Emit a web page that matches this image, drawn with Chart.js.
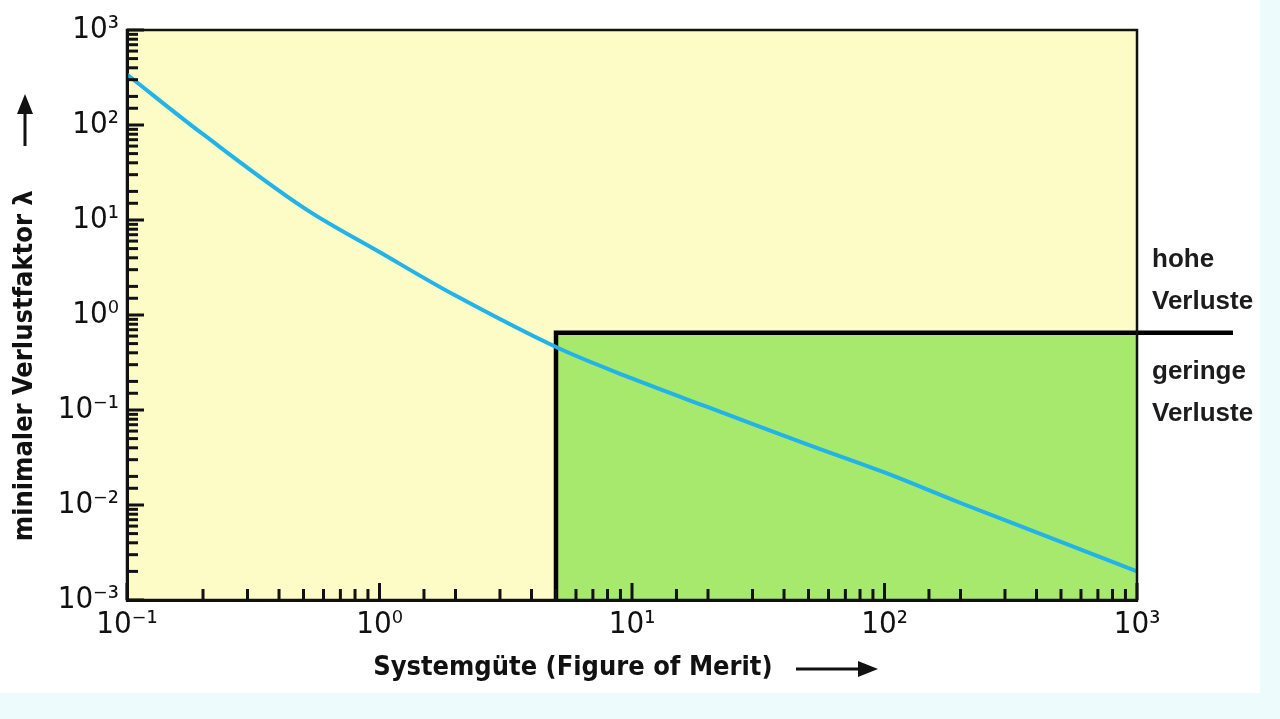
<!DOCTYPE html>
<html>
<head>
<meta charset="utf-8">
<script src="https://cdn.jsdelivr.net/npm/chart.js@4.4.0/dist/chart.umd.min.js"></script>
<style>
  html, body { margin: 0; padding: 0; background: #eefbfc; }
  #wrap { width: 1260px; height: 693px; background: #ffffff; }
</style>
</head>
<body>
<div id="wrap"><canvas id="chartCanvas" width="1260" height="693"></canvas></div>
<script>
// Kurve: minimaler Verlustfaktor über Systemgüte
const meritValues = [0.1, 0.2, 0.5, 1, 2, 5, 10, 20, 50, 100, 200, 500, 1000];
const lossValues = [340, 80, 13.5, 4.6, 1.6, 0.46, 0.215, 0.107, 0.043, 0.022, 0.0105, 0.0041, 0.002];

// Grenze hohe / geringe Verluste
const limitMerit = [5, 1000];
const limitLoss = [0.65, 0.65];
const limitLineX = [5, 5, 2400];
const limitLineY = [0.001, 0.65, 0.65];

const xTickLabels = { "-1": "10⁻¹", "0": "10⁰", "1": "10¹", "2": "10²", "3": "10³" };
const yTickLabels = { "-3": "10⁻³", "-2": "10⁻²", "-1": "10⁻¹", "0": "10⁰", "1": "10¹", "2": "10²", "3": "10³" };
const regionLabels = [["hohe", "Verluste"], ["geringe", "Verluste"]];

const fontFamily = "'DejaVu Sans Condensed', 'Liberation Sans Narrow', sans-serif";
const narrowFamily = "'Liberation Sans', Arial, sans-serif";

function toPoints(xs, ys) {
  return xs.map((x, i) => ({ x: x, y: ys[i] }));
}

function decadeLabel(map, value) {
  const e = Math.log10(value);
  if (Math.abs(e - Math.round(e)) < 1e-9) return map[String(Math.round(e))] || "";
  return "";
}

const framePlugin = {
  id: "frame",
  beforeDraw(chart) {
    const { ctx, chartArea: a } = chart;
    ctx.save();
    ctx.fillStyle = "#fefcc6";
    ctx.fillRect(a.left, a.top, a.right - a.left, a.bottom - a.top);
    ctx.restore();
  },
  afterDraw(chart) {
    const { ctx, chartArea: a } = chart;
    const xs = chart.scales.x, ys = chart.scales.y;
    ctx.save();
    ctx.strokeStyle = "#111";
    ctx.lineWidth = 3;
    // ticks inside
    xs.ticks.forEach(t => {
      const px = xs.getPixelForValue(t.value);
      const major = decadeLabel(xTickLabels, t.value) !== "";
      ctx.beginPath();
      ctx.moveTo(px, a.bottom);
      ctx.lineTo(px, a.bottom - (major ? 17 : 11));
      ctx.stroke();
    });
    ys.ticks.forEach(t => {
      const py = ys.getPixelForValue(t.value);
      const major = decadeLabel(yTickLabels, t.value) !== "";
      ctx.beginPath();
      ctx.moveTo(a.left, py);
      ctx.lineTo(a.left + (major ? 17 : 11), py);
      ctx.stroke();
    });
    // frame
    ctx.lineWidth = 2.5;
    ctx.strokeRect(a.left, a.top, a.right - a.left, a.bottom - a.top);

    // arrows behind axis titles
    ctx.fillStyle = "#111";
    ctx.lineWidth = 3;
    const ax = 796, ay = 669;
    ctx.beginPath(); ctx.moveTo(ax, ay); ctx.lineTo(ax + 68, ay); ctx.stroke();
    ctx.beginPath(); ctx.moveTo(ax + 82, ay); ctx.lineTo(ax + 62, ay - 8); ctx.lineTo(ax + 62, ay + 8); ctx.closePath(); ctx.fill();
    const bx = 25, by = 146;
    ctx.beginPath(); ctx.moveTo(bx, by); ctx.lineTo(bx, by - 38); ctx.stroke();
    ctx.beginPath(); ctx.moveTo(bx, by - 52); ctx.lineTo(bx - 8, by - 32); ctx.lineTo(bx + 8, by - 32); ctx.closePath(); ctx.fill();

    // region labels
    const y0 = ys.getPixelForValue(limitLoss[0]);
    ctx.font = "bold 26px " + narrowFamily;
    ctx.textAlign = "left";
    ctx.textBaseline = "alphabetic";
    ctx.fillStyle = "#1c1c1c";
    const lx = a.right + 15;
    ctx.fillText(regionLabels[0][0], lx, y0 - 66);
    ctx.fillText(regionLabels[0][1], lx, y0 - 24);
    ctx.fillText(regionLabels[1][0], lx, y0 + 46);
    ctx.fillText(regionLabels[1][1], lx, y0 + 88);
    ctx.restore();
  }
};

const ctx = document.getElementById("chartCanvas").getContext("2d");
const chart = new Chart(ctx, {
  type: "line",
  data: {
    datasets: [
      {
        data: toPoints(meritValues, lossValues),
        borderColor: "#22b3e8",
        borderWidth: 4,
        pointRadius: 0,
        tension: 0.35,
        fill: false
      },
      {
        data: toPoints(limitLineX, limitLineY),
        borderColor: "#000",
        borderWidth: 4.5,
        pointRadius: 0,
        tension: 0,
        fill: false,
        clip: false
      },
      {
        data: toPoints(limitMerit, limitLoss),
        borderWidth: 0,
        borderColor: "rgba(0,0,0,0)",
        backgroundColor: "#a7e96d",
        pointRadius: 0,
        tension: 0,
        fill: "start"
      }
    ]
  },
  plugins: [framePlugin],
  options: {
    animation: false,
    responsive: false,
    layout: { padding: { left: 0, top: 30, right: 123, bottom: 0 } },
    plugins: {
      legend: { display: false },
      tooltip: { enabled: false }
    },
    scales: {
      x: {
        type: "logarithmic",
        min: 0.1,
        max: 1000,
        afterFit: s => { s.height = 93; },
        grid: { display: false, drawTicks: false },
        border: { display: true, color: "#111", width: 3 },
        ticks: {
          autoSkip: false,
          maxRotation: 0,
          padding: 6,
          color: "#111",
          font: { family: fontFamily, size: 31 },
          callback: v => decadeLabel(xTickLabels, v)
        },
        title: {
          display: true,
          text: "Systemgüte (Figure of Merit)              ",
          color: "#111",
          font: { family: fontFamily, size: 27, weight: "bold" },
          padding: { top: 0, bottom: 9 }
        }
      },
      y: {
        type: "logarithmic",
        min: 0.001,
        max: 1000,
        afterFit: s => { s.width = 127; },
        grid: { display: false, drawTicks: false },
        border: { display: true, color: "#111", width: 3 },
        ticks: {
          autoSkip: false,
          padding: 8,
          color: "#111",
          font: { family: fontFamily, size: 31 },
          callback: v => decadeLabel(yTickLabels, v)
        },
        title: {
          display: true,
          text: "minimaler Verlustfaktor λ            ",
          color: "#111",
          font: { family: fontFamily, size: 27, weight: "bold" },
          padding: { top: 9, bottom: 0 }
        }
      }
    }
  }
});
</script>
</body>
</html>
